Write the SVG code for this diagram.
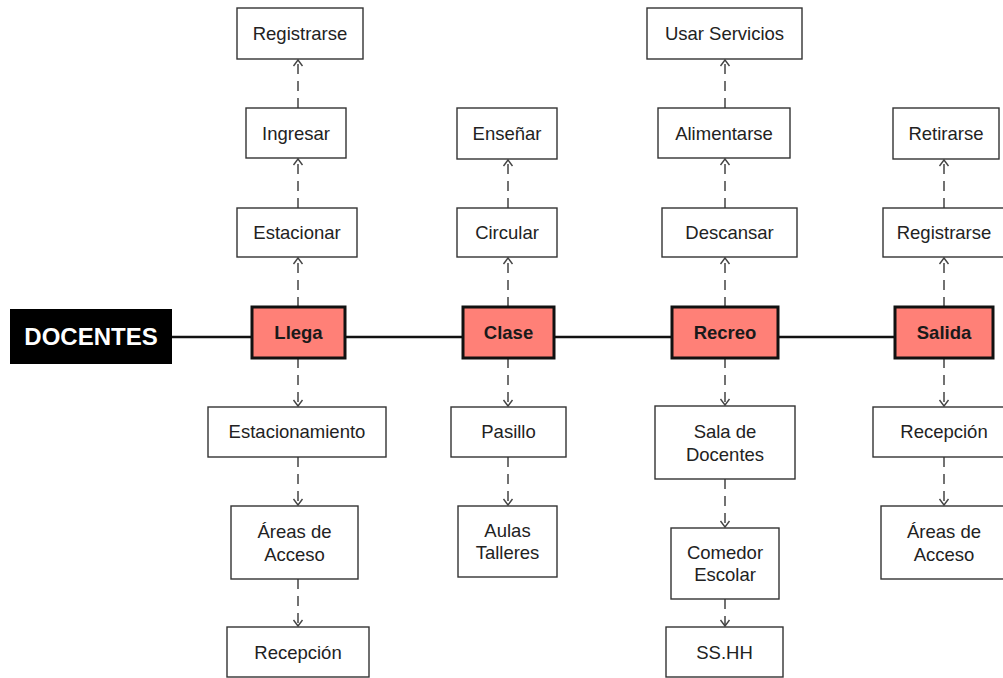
<svg xmlns="http://www.w3.org/2000/svg" width="1003" height="678" viewBox="0 0 1003 678">
<style>
.bg{fill:#fff}
.box{fill:#fff;stroke:#333;stroke-width:1.4}
.key{fill:#ff8077;stroke:#111;stroke-width:3}
.t{font-family:"Liberation Sans",Arial,sans-serif;font-size:18.5px;fill:#222;text-anchor:middle}
.b{font-family:"Liberation Sans",Arial,sans-serif;font-size:18.5px;font-weight:bold;fill:#1a1a1a;text-anchor:middle}
.main{font-family:"Liberation Sans",Arial,sans-serif;font-size:24px;font-weight:bold;fill:#fff;text-anchor:middle}
.dash{stroke:#444;stroke-width:1.5;stroke-dasharray:10 7;fill:none;marker-end:url(#arr)}
.solid{stroke:#111;stroke-width:2.5;fill:none}
</style>
<defs>
<marker id="arr" viewBox="-8 -6 10 12" markerWidth="10" markerHeight="12" refX="0" refY="0" orient="auto" markerUnits="userSpaceOnUse">
<path d="M-6,-4.5 L0,0 L-6,4.5" fill="none" stroke="#444" stroke-width="1.4"/>
</marker>
</defs>
<rect class="bg" x="0" y="0" width="1003" height="678"/>
<g id="connectors">
<line class="solid" x1="172" y1="337" x2="252" y2="337"/>
<line class="solid" x1="345" y1="337" x2="463" y2="337"/>
<line class="solid" x1="554" y1="337" x2="672" y2="337"/>
<line class="solid" x1="778" y1="337" x2="895" y2="337"/>
<line class="dash" x1="298" y1="307" x2="298" y2="258"/>
<line class="dash" x1="298" y1="208" x2="298" y2="159"/>
<line class="dash" x1="298" y1="108" x2="298" y2="60"/>
<line class="dash" x1="298" y1="358" x2="298" y2="406"/>
<line class="dash" x1="298" y1="457" x2="298" y2="505"/>
<line class="dash" x1="298" y1="579" x2="298" y2="626"/>
<line class="dash" x1="508" y1="307" x2="508" y2="258"/>
<line class="dash" x1="508" y1="208" x2="508" y2="160"/>
<line class="dash" x1="508" y1="358" x2="508" y2="406"/>
<line class="dash" x1="508" y1="457" x2="508" y2="505"/>
<line class="dash" x1="725" y1="307" x2="725" y2="258"/>
<line class="dash" x1="725" y1="208" x2="725" y2="159"/>
<line class="dash" x1="725" y1="108" x2="725" y2="60"/>
<line class="dash" x1="725" y1="358" x2="725" y2="405"/>
<line class="dash" x1="725" y1="479" x2="725" y2="527"/>
<line class="dash" x1="725" y1="599" x2="725" y2="626"/>
<line class="dash" x1="944" y1="307" x2="944" y2="258"/>
<line class="dash" x1="944" y1="208" x2="944" y2="160"/>
<line class="dash" x1="944" y1="358" x2="944" y2="406"/>
<line class="dash" x1="944" y1="457" x2="944" y2="505"/>
</g>
<g id="docentes"><rect x="10" y="309" width="162" height="55" fill="#000"/><text class="main" x="91" y="345">DOCENTES</text></g>
<g id="llega"><rect class="key" x="252" y="307" width="93" height="51"/><text class="b" x="298.5" y="339">Llega</text></g>
<g id="clase"><rect class="key" x="463" y="307" width="91" height="51"/><text class="b" x="508.5" y="339">Clase</text></g>
<g id="recreo"><rect class="key" x="672" y="307" width="106" height="51"/><text class="b" x="725" y="339">Recreo</text></g>
<g id="salida"><rect class="key" x="895" y="307" width="98" height="51"/><text class="b" x="944" y="339">Salida</text></g>

<g id="registrarse1"><rect class="box" x="237" y="8" width="126" height="51"/><text class="t" x="300" y="40">Registrarse</text></g>
<g id="ingresar"><rect class="box" x="246" y="108" width="100" height="50"/><text class="t" x="296" y="140">Ingresar</text></g>
<g id="estacionar"><rect class="box" x="237" y="208" width="120" height="49"/><text class="t" x="297" y="239">Estacionar</text></g>
<g id="estacionamiento"><rect class="box" x="208" y="407" width="178" height="50"/><text class="t" x="297" y="438">Estacionamiento</text></g>
<g id="areas1"><rect class="box" x="231" y="506" width="127" height="73"/><text class="t" x="294.5" y="538">Áreas de</text><text class="t" x="294.5" y="561">Acceso</text></g>
<g id="recepcion1"><rect class="box" x="227" y="627" width="142" height="50"/><text class="t" x="298" y="659">Recepción</text></g>

<g id="ensenar"><rect class="box" x="457" y="108" width="100" height="51"/><text class="t" x="507" y="140">Enseñar</text></g>
<g id="circular"><rect class="box" x="457" y="208" width="100" height="49"/><text class="t" x="507" y="239">Circular</text></g>
<g id="pasillo"><rect class="box" x="451" y="407" width="115" height="50"/><text class="t" x="508.5" y="438">Pasillo</text></g>
<g id="aulas"><rect class="box" x="458" y="506" width="99" height="71"/><text class="t" x="507.5" y="537">Aulas</text><text class="t" x="507.5" y="559">Talleres</text></g>

<g id="usar"><rect class="box" x="647" y="8" width="155" height="51"/><text class="t" x="724.5" y="40">Usar Servicios</text></g>
<g id="alimentarse"><rect class="box" x="658" y="108" width="132" height="50"/><text class="t" x="724" y="140">Alimentarse</text></g>
<g id="descansar"><rect class="box" x="662" y="208" width="135" height="49"/><text class="t" x="729.5" y="239">Descansar</text></g>
<g id="sala"><rect class="box" x="655" y="406" width="140" height="73"/><text class="t" x="725" y="438">Sala de</text><text class="t" x="725" y="461">Docentes</text></g>
<g id="comedor"><rect class="box" x="671" y="528" width="108" height="71"/><text class="t" x="725" y="559">Comedor</text><text class="t" x="725" y="581">Escolar</text></g>
<g id="sshh"><rect class="box" x="666" y="627" width="117" height="50"/><text class="t" x="724.5" y="659">SS.HH</text></g>

<g id="retirarse"><rect class="box" x="893" y="108" width="106" height="51"/><text class="t" x="946" y="140">Retirarse</text></g>
<g id="registrarse2"><rect class="box" x="883" y="208" width="122" height="49"/><text class="t" x="944" y="239">Registrarse</text></g>
<g id="recepcion2"><rect class="box" x="873" y="407" width="142" height="50"/><text class="t" x="944" y="438">Recepción</text></g>
<g id="areas2"><rect class="box" x="881" y="506" width="127" height="73"/><text class="t" x="944" y="538">Áreas de</text><text class="t" x="944" y="561">Acceso</text></g>
</svg>
